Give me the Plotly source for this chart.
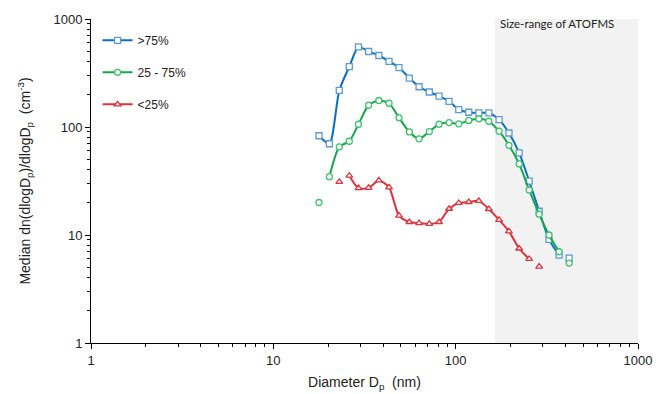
import math
import plotly.graph_objects as go

# Diameters (nm)
d_all = [17.8, 20.3, 23.0, 26.1, 29.3, 33.3, 37.9, 43.1, 48.9, 55.7, 63.0, 71.7, 81.1,
         92.0, 104, 118, 134, 152, 173, 196, 223, 253, 287, 325, 369, 419]

# >75%
hi_x = d_all
hi_y = [83, 70, 218, 362, 551, 500, 459, 406, 355, 284, 236, 211, 193,
        173, 145, 137, 135, 135, 117, 88, 57.6, 31.6, 16.6, 9.1, 6.5, 6.1]
hi_line = (0, 25)          # connected points (start, stop)

# 25 - 75%
mid_x = d_all
mid_y = [20.0, 34.7, 65.5, 73.8, 106, 159, 176, 166, 122, 90, 77.7, 90.8, 106,
         110, 107, 115, 119, 113, 91.4, 67.7, 45.5, 26.1, 15.6, 10.0, 7.0, 5.5]
mid_line = (1, 25)

# <25%
lo_x = d_all[2:23]
lo_y = [31.0, 35.4, 27.2, 27.3, 32.0, 27.6, 15.1, 13.2, 12.9, 12.7, 13.2, 17.5,
        19.8, 20.2, 20.7, 17.4, 13.8, 10.8, 7.5, 6.0, 5.1]
lo_line = (1, 20)

atofms_range = [164, 1000]

series = [
    (">75%", hi_x, hi_y, hi_line, "#0A6FC2", "#5B9BD5", "square", 6),
    ("25 - 75%", mid_x, mid_y, mid_line, "#12A84A", "#3CC46A", "circle", 6),
    ("<25%", lo_x, lo_y, lo_line, "#E0323C", "#E0323C", "triangle-up", 6),
]

fig = go.Figure()
for i, (name, xs, ys, (a, b), lc, mc, sym, ms) in enumerate(series):
    fig.add_trace(go.Scatter(
        x=xs[a:b], y=ys[a:b], mode="lines+markers", name=name,
        legendgroup=name,
        line=dict(color=lc, width=2, shape="spline", smoothing=0.7),
        marker=dict(symbol=sym, size=ms, color="white", line=dict(color=mc, width=1.3)),
    ))
    iso = [j for j in range(len(xs)) if j < a or j >= b]
    fig.add_trace(go.Scatter(
        x=[xs[j] for j in iso], y=[ys[j] for j in iso], mode="markers",
        showlegend=False, legendgroup=name,
        marker=dict(symbol=sym, size=ms, color="white", line=dict(color=mc, width=1.3)),
    ))

fig.add_shape(type="rect", xref="x", yref="paper",
              x0=atofms_range[0], x1=atofms_range[1], y0=0, y1=1.0,
              fillcolor="#F2F2F2", line=dict(width=0), layer="below")
fig.add_annotation(xref="x", yref="paper", x=math.log10(atofms_range[0]), y=1.0,
                   xanchor="left", yanchor="middle", xshift=3, yshift=-4, showarrow=False,
                   text="Size-range of ATOFMS",
                   font=dict(family="Lato", size=11.5, color="#222"))

axis_font = dict(family="Liberation Sans", size=13, color="#222")
title_font = dict(family="Liberation Sans", size=14, color="#222")
common = dict(type="log", range=[0, 3], showline=True, linecolor="black", linewidth=1,
              ticks="outside", ticklen=5, tickcolor="black",
              tickvals=[1, 10, 100, 1000], ticktext=["1", "10", "100", "1000"],
              minor=dict(ticks="outside", ticklen=3, tickcolor="black", dtick="D1", showgrid=False),
              showgrid=False, zeroline=False, tickfont=axis_font, automargin=False,
              ticklabeloverflow="allow")

fig.update_layout(
    width=656, height=394,
    margin=dict(l=91, r=18, t=19, b=51),
    plot_bgcolor="white", paper_bgcolor="white",
    font=dict(family="Liberation Sans", size=13, color="#222"),
    showlegend=True,
    legend=dict(x=0.012, y=0.979, xanchor="left", yanchor="top",
                bgcolor="rgba(0,0,0,0)", font=dict(family="Liberation Sans", size=12, color="#222"),
                tracegroupgap=13, itemwidth=30),
    xaxis=dict(**common, title=dict(text="Diameter D<sub>p</sub>  (nm)", font=title_font, standoff=10)),
    yaxis=dict(**common, title=dict(text="Median dn(dlogD<sub>p</sub>)/dlogD<sub>p</sub>  (cm<sup>-3</sup>)",
                                    font=title_font, standoff=19)),
)

fig.write_html("out.html", config={"displayModeBar": False},
               post_script="document.body.style.margin='0';")
